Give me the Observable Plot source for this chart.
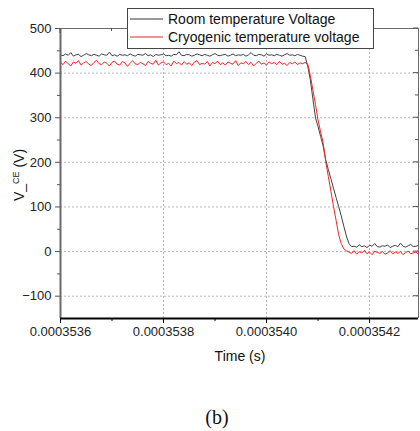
<!DOCTYPE html>
<html><head><meta charset="utf-8">
<script src="https://cdn.jsdelivr.net/npm/d3@7"></script>
<script src="https://cdn.jsdelivr.net/npm/@observablehq/plot@0.6"></script>
<style>body{margin:0;background:#fff} #chart{width:420px;height:431px}</style>
</head><body><div id="chart"></div>
<script>
// sample times in nanoseconds
const timeNs = [
353600,353605,353610,353615,353620,353625,353630,353635,353640,353645,
353650,353655,353660,353665,353670,353675,353680,353685,353690,353695,
353700,353705,353710,353715,353720,353725,353730,353735,353740,353745,
353750,353755,353760,353765,353770,353775,353780,353785,353790,353795,
353800,353805,353810,353815,353820,353825,353830,353835,353840,353845,
353850,353855,353860,353865,353870,353875,353880,353885,353890,353895,
353900,353905,353910,353915,353920,353925,353930,353935,353940,353945,
353950,353955,353960,353965,353970,353975,353980,353985,353990,353995,
354000,354005,354010,354015,354020,354025,354030,354035,354040,354045,
354050,354055,354060,354065,354070,354075,354080,354085,354090,354095,
354100,354105,354110,354115,354120,354125,354130,354135,354140,354145,
354150,354155,354160,354165,354170,354175,354180,354185,354190,354195,
354200,354205,354210,354215,354220,354225,354230,354235,354240,354245,
354250,354255,354260,354265,354270,354275,354280,354285,354290,354295,
354300];
const roomV = [
441,439,443,440,446,438,441,442,437,440,
444,441,439,442,440,438,443,441,440,447,
439,441,438,442,440,441,439,443,440,438,
442,441,440,444,439,441,437,442,440,441,
443,439,440,438,442,441,448,440,439,442,
441,438,440,443,441,439,442,440,438,441,
444,440,439,441,442,438,440,443,439,441,
440,442,438,441,446,440,439,442,441,438,
443,440,441,439,442,440,438,441,444,440,
441,439,442,440,438,
437,415,385,342,300,280,258,236,205,184,163,142,121,101,80,57,35,18,11,
12,10,15,11,13,9,14,12,18,11,10,13,12,15,9,12,14,11,19,12,10,13,16,11,12,14,10];
const cryoV = [
424,419,427,421,416,425,422,428,418,423,
426,420,417,424,429,421,419,425,422,416,
424,427,420,418,426,423,415,422,428,421,
419,424,421,417,426,422,420,429,418,423,
425,419,422,416,427,421,424,418,426,420,
423,417,425,428,419,422,420,426,416,424,
421,427,419,423,418,425,422,420,428,417,
423,421,426,419,424,416,422,427,420,423,
418,425,421,424,419,426,420,422,417,424,
421,425,419,423,421,
424,420,395,362,330,295,268,243,201,168,135,101,70,38,18,6,2,
-1,-4,2,-6,0,-3,3,-5,-1,-7,1,-2,-4,0,-6,-3,2,-5,-1,-4,0,-7,-2,1,-5,-3,-1,-6,-2];

const seriesNames = ["Room temperature Voltage", "Cryogenic temperature voltage"];
const xMajorTicks = [0.0003536, 0.0003538, 0.0003540, 0.0003542];
const xMinorTicks = [0.0003537, 0.0003539, 0.0003541];
const yMajorTicks = [500, 400, 300, 200, 100, 0, -100];
const yMinorTicks = [450, 350, 250, 150, 50, -50];
const xDomain = [0.0003536, 0.000354295];
const yDomain = [-150, 500];
const xLabel = "Time (s)";
const panelLabel = "(b)";

const roomData = timeNs.map((t, i) => ({t: t * 1e-9, v: roomV[i]}));
const cryoData = timeNs.map((t, i) => ({t: t * 1e-9, v: cryoV[i]}));
const fmt = d3.format(".7f");
const blank = () => "";
const FONT = "'Liberation Sans', Arial, sans-serif";

const plot = Plot.plot({
  width: 420, height: 431,
  marginLeft: 60, marginRight: 2, marginTop: 28, marginBottom: 113,
  style: {fontFamily: FONT, fontSize: "13px", color: "#222", background: "white", overflow: "visible"},
  x: {domain: xDomain},
  y: {domain: yDomain},
  marks: [
    Plot.ruleX(xMajorTicks.slice(1), {stroke: "#b5b5b5", strokeDasharray: "2,2"}),
    Plot.ruleY(yMajorTicks.slice(1), {stroke: "#b5b5b5", strokeDasharray: "2,2"}),
    Plot.line(roomData, {x: "t", y: "v", stroke: "#404040", strokeWidth: 1, clip: true}),
    Plot.line(cryoData, {x: "t", y: "v", stroke: "#f02424", strokeWidth: 1, clip: true}),
    Plot.ruleY([yDomain[1]], {stroke: "#6a6a6a", strokeWidth: 1}),
    Plot.ruleX([xDomain[1]], {stroke: "#6a6a6a", strokeWidth: 1}),
    Plot.ruleX([xDomain[0]], {stroke: "#6a6a6a", strokeWidth: 2}),
    Plot.ruleY([yDomain[0]], {stroke: "#000", strokeWidth: 2}),
    Plot.axisX({ticks: xMajorTicks, anchor: "bottom", tickSize: 5, tickPadding: 3, tickFormat: fmt, label: null, stroke: "#000"}),
    Plot.axisX({ticks: xMinorTicks, anchor: "bottom", tickSize: 3, tickFormat: blank, label: null, stroke: "#000"}),
    Plot.axisY({ticks: yMajorTicks, anchor: "left", tickSize: 5, tickPadding: 4, label: null, stroke: "#555"}),
    Plot.axisY({ticks: yMinorTicks, anchor: "left", tickSize: 3, tickFormat: blank, label: null, stroke: "#555"})
  ]
});
document.getElementById("chart").appendChild(plot);

const xs = d3.scaleLinear(plot.scale("x").domain, plot.scale("x").range);
const ys = d3.scaleLinear(plot.scale("y").domain, plot.scale("y").range);
const svg = d3.select(plot);
const g = svg.append("g").attr("stroke", "#555").attr("stroke-width", 1);
// inward ticks on top and right
const topY = ys(yDomain[1]), rightX = xs(xDomain[1]);
xMajorTicks.forEach(v => g.append("line").attr("x1", xs(v)).attr("x2", xs(v)).attr("y1", topY).attr("y2", topY + 5));
xMinorTicks.forEach(v => g.append("line").attr("x1", xs(v)).attr("x2", xs(v)).attr("y1", topY).attr("y2", topY + 3));
yMajorTicks.forEach(v => g.append("line").attr("y1", ys(v)).attr("y2", ys(v)).attr("x1", rightX).attr("x2", rightX - 5));
yMinorTicks.forEach(v => g.append("line").attr("y1", ys(v)).attr("y2", ys(v)).attr("x1", rightX).attr("x2", rightX - 3));

// y label with subscript
const yl = svg.append("text").attr("transform", "translate(24,175) rotate(-90)")
  .attr("text-anchor", "middle").attr("font-family", FONT).attr("font-size", 14).attr("fill", "#111");
yl.append("tspan").text("V_");
yl.append("tspan").attr("font-size", 9).attr("dy", -5).text("CE");
yl.append("tspan").attr("dy", 5).text(" (V)");

// x label
svg.append("text").attr("x", 240).attr("y", 361).attr("text-anchor", "middle")
  .attr("font-family", FONT).attr("font-size", 14).attr("fill", "#111").text(xLabel);

// legend
const lg = svg.append("g").attr("text-anchor", "start");
lg.append("rect").attr("x", 127.5).attr("y", 8.5).attr("width", 246).attr("height", 40)
  .attr("fill", "white").attr("stroke", "#444").attr("stroke-width", 1);
lg.append("line").attr("x1", 130).attr("x2", 163).attr("y1", 19).attr("y2", 19).attr("stroke", "#999").attr("stroke-width", 2);
lg.append("line").attr("x1", 130).attr("x2", 163).attr("y1", 37).attr("y2", 37).attr("stroke", "#e82222").attr("stroke-width", 1);
lg.append("text").attr("x", 168).attr("y", 24).attr("text-anchor", "start").attr("font-family", FONT).attr("font-size", 14).attr("fill", "#111").text(seriesNames[0]);
lg.append("text").attr("x", 168).attr("y", 42).attr("text-anchor", "start").attr("font-family", FONT).attr("font-size", 14).attr("fill", "#111").text(seriesNames[1]);

// panel label
svg.append("text").attr("x", 217).attr("y", 424).attr("text-anchor", "middle")
  .attr("font-family", "'Liberation Serif', 'Times New Roman', serif").attr("font-size", 20).attr("fill", "#111").text(panelLabel);
</script>
</body></html>
